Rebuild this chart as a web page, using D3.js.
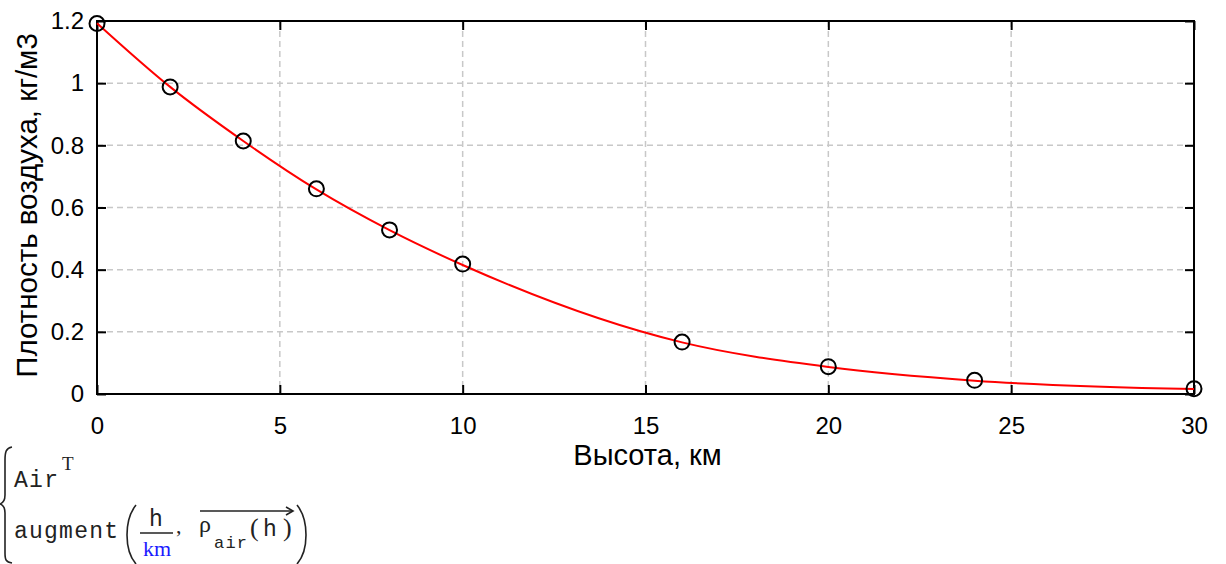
<!DOCTYPE html>
<html>
<head>
<meta charset="utf-8">
<script src="https://cdn.jsdelivr.net/npm/d3@7"></script>
<style>
  html, body { margin: 0; padding: 0; background: #fff; }
  svg { display: block; }
</style>
</head>
<body>
<svg id="chart" width="1226" height="564"></svg>
<script>
// ---- data ----
const pointHeights = [0, 2, 4, 6, 8, 10, 16, 20, 24, 30];
const pointDensity = [1.192, 0.988, 0.814, 0.660, 0.528, 0.418, 0.167, 0.088, 0.044, 0.017];
const lineHeights = [0, 2, 4, 6, 8, 10, 16, 20, 24, 30];
const lineDensity = [1.193, 0.988, 0.814, 0.658, 0.527, 0.415, 0.166, 0.087, 0.043, 0.016];
const xTicks = [0, 5, 10, 15, 20, 25, 30];
const yTicks = [0, 0.2, 0.4, 0.6, 0.8, 1, 1.2];
const xTitle = "Высота, км";
const yTitle = "Плотность воздуха, кг/м3";

(function () {
const svg = d3.select("#chart");
const pL = 97, pR = 1194, pT = 21, pB = 394;
const x = d3.scaleLinear().domain([0, 30]).range([pL, pR]);
const y = d3.scaleLinear().domain([0, 1.2]).range([pB, pT]);
const sans = "'Liberation Sans', Arial, sans-serif";

// grid
const grid = svg.append("g").attr("stroke", "#c8c8c8").attr("stroke-width", 1.5)
  .attr("stroke-dasharray", "6,4");
xTicks.filter(d => d > 0 && d < 30).forEach(d => {
  grid.append("line").attr("x1", x(d)).attr("x2", x(d)).attr("y1", pT).attr("y2", pB);
});
yTicks.filter(d => d > 0 && d < 1.2).forEach(d => {
  grid.append("line").attr("x1", pL).attr("x2", pR).attr("y1", y(d)).attr("y2", y(d));
});

// axes with inward ticks
const tl = 9;
const axB = svg.append("g").attr("transform", `translate(0,${pB})`)
  .call(d3.axisBottom(x).tickValues(xTicks).tickSizeInner(-tl).tickSizeOuter(0).tickPadding(23).tickFormat(d3.format("d")));
const axT = svg.append("g").attr("transform", `translate(0,${pT})`)
  .call(d3.axisTop(x).tickValues(xTicks).tickSizeInner(-tl).tickSizeOuter(0).tickFormat(""));
const axL = svg.append("g").attr("transform", `translate(${pL},0)`)
  .call(d3.axisLeft(y).tickValues(yTicks).tickSizeInner(-tl).tickSizeOuter(0).tickPadding(13).tickFormat(d => String(+d.toFixed(1))));
const axR = svg.append("g").attr("transform", `translate(${pR},0)`)
  .call(d3.axisRight(y).tickValues(yTicks).tickSizeInner(-tl).tickSizeOuter(0).tickFormat(""));
[axB, axT, axL, axR].forEach(a => {
  a.select(".domain").remove();
  a.selectAll(".tick line").attr("stroke", "#000").attr("stroke-width", 2);
  a.selectAll("text").attr("font-family", sans).attr("font-size", 24).attr("fill", "#000");
});

// frame
svg.append("rect").attr("x", pL).attr("y", pT).attr("width", pR - pL).attr("height", pB - pT)
  .attr("fill", "none").attr("stroke", "#000").attr("stroke-width", 2);

// line
const lineData = lineHeights.map((h, i) => [h, lineDensity[i]]);
svg.append("path").datum(lineData)
  .attr("d", d3.line().x(d => x(d[0])).y(d => y(d[1])).curve(d3.curveMonotoneX))
  .attr("fill", "none").attr("stroke", "#ff0000").attr("stroke-width", 2);

// points
svg.append("g").selectAll("circle").data(pointHeights.map((h, i) => [h, pointDensity[i]]))
  .join("circle").attr("cx", d => x(d[0])).attr("cy", d => y(d[1])).attr("r", 7.5)
  .attr("fill", "none").attr("stroke", "#000").attr("stroke-width", 2);

// titles
svg.append("text").attr("x", (pL + pR) / 2 + 2).attr("y", 465).attr("text-anchor", "middle")
  .attr("font-family", sans).attr("font-size", 29).attr("fill", "#000").text(xTitle);
svg.append("text").attr("transform", `translate(37,${(pT + pB) / 2 - 2}) rotate(-90)`)
  .attr("text-anchor", "middle").attr("font-family", sans).attr("font-size", 29.5).attr("fill", "#000").text(yTitle);

// formula (Mathcad region)
const mono = "'Liberation Mono', 'Courier New', monospace";
const serif = "'Liberation Serif', 'Times New Roman', serif";
const f = svg.append("g").attr("fill", "#222");
f.append("path")
  .attr("d", "M12,447 C6,448 5,452 5,460 L5,495 C5,500 3,503 0,504 C3,505 5,508 5,513 L5,553 C5,560 6,562 12,563")
  .attr("fill", "none").attr("stroke", "#222").attr("stroke-width", 1.6);
f.append("text").attr("x", 14).attr("y", 487).attr("font-family", mono).attr("font-size", 23)
  .attr("textLength", 44).text("Air");
f.append("text").attr("x", 62).attr("y", 470).attr("font-family", serif).attr("font-size", 19).text("T");
f.append("text").attr("x", 14).attr("y", 538).attr("font-family", mono).attr("font-size", 23)
  .attr("textLength", 104).text("augment");
f.append("path").attr("d", "M136,505 C124,520 124,550 136,564").attr("fill", "none").attr("stroke", "#222").attr("stroke-width", 1.6);
f.append("path").attr("d", "M297,505 C309,520 309,550 297,564").attr("fill", "none").attr("stroke", "#222").attr("stroke-width", 1.6);
f.append("text").attr("x", 156).attr("y", 526).attr("text-anchor", "middle").attr("font-family", mono).attr("font-size", 23).text("h");
f.append("line").attr("x1", 140).attr("x2", 173).attr("y1", 533).attr("y2", 533).attr("stroke", "#222").attr("stroke-width", 1.3);
f.append("text").attr("x", 157).attr("y", 556).attr("text-anchor", "middle").attr("font-family", serif).attr("font-size", 22).attr("fill", "#1a1aff").text("km");
f.append("text").attr("x", 176).attr("y", 533).attr("font-family", serif).attr("font-size", 22).text(",");
f.append("text").attr("x", 199).attr("y", 532).attr("font-family", serif).attr("font-size", 24).text("ρ");
f.append("text").attr("x", 214).attr("y", 548).attr("font-family", mono).attr("font-size", 17).attr("textLength", 33).text("air");
f.append("text").attr("x", 250).attr("y", 536).attr("font-family", serif).attr("font-size", 26).text("(");
f.append("text").attr("x", 263).attr("y", 536).attr("font-family", mono).attr("font-size", 23).text("h");
f.append("text").attr("x", 283).attr("y", 536).attr("font-family", serif).attr("font-size", 26).text(")");
f.append("line").attr("x1", 200).attr("x2", 292).attr("y1", 511).attr("y2", 511).attr("stroke", "#222").attr("stroke-width", 1.6);
f.append("path").attr("d", "M286,507 L293,511 L286,515").attr("fill", "none").attr("stroke", "#222").attr("stroke-width", 1.6);
})();
</script>
</body>
</html>
